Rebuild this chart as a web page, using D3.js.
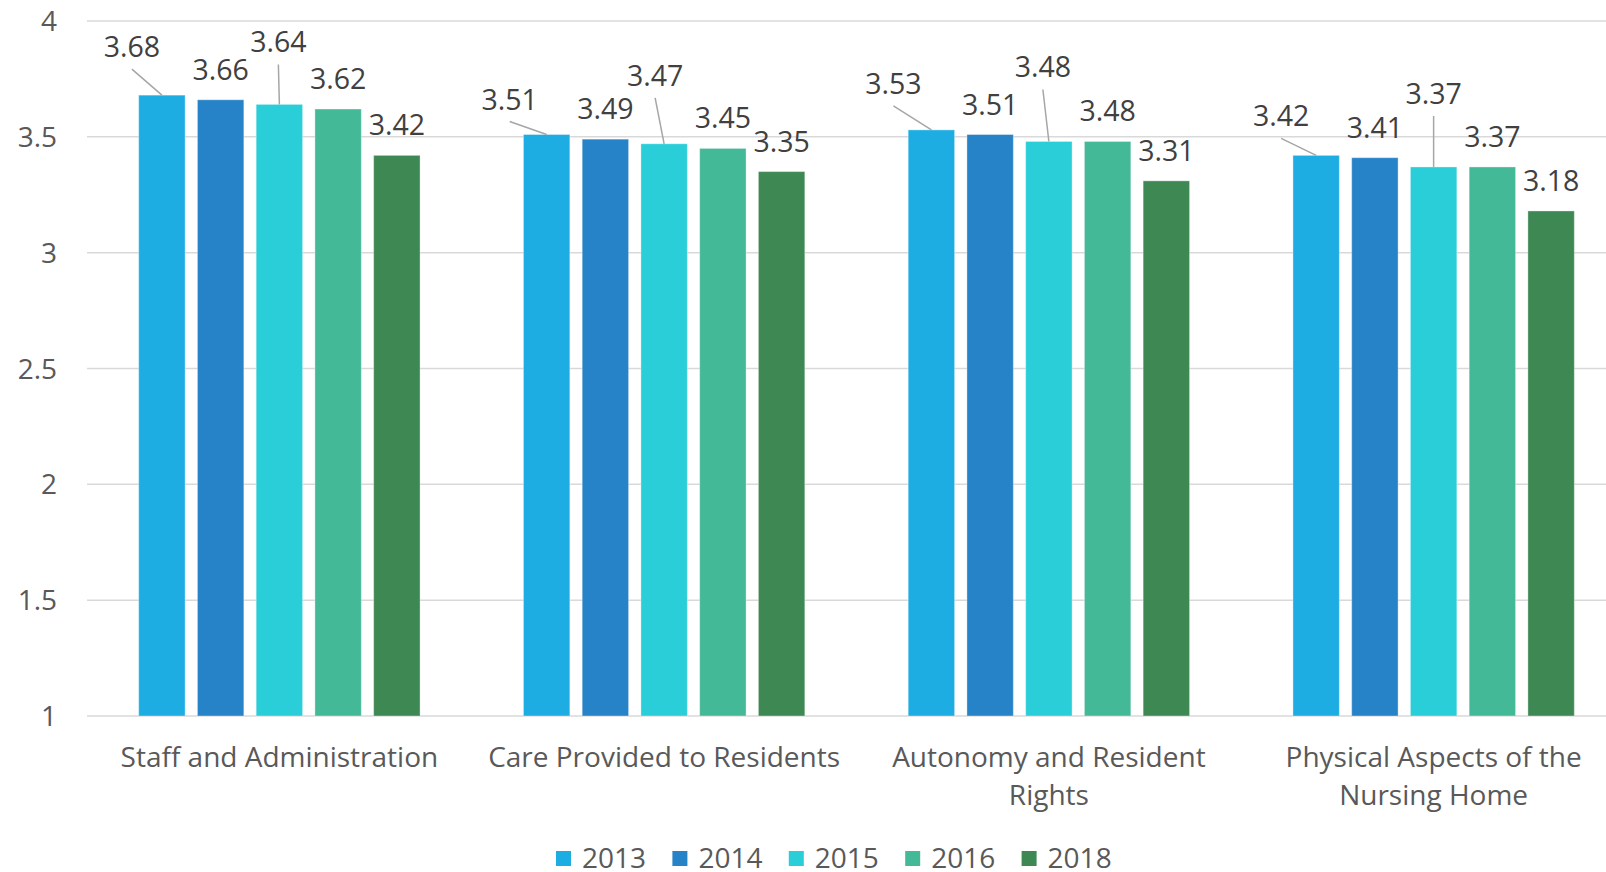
<!DOCTYPE html>
<html>
<head>
<meta charset="utf-8">
<script src="https://cdn.jsdelivr.net/npm/d3@7"></script>
<style>
  html, body { margin: 0; padding: 0; background: #fff; overflow: hidden; }
  svg { display: block; font-family: "Open Sans", sans-serif; }
</style>
</head>
<body>
<div id="chart"></div>
<script>
// Survey scores by area and year

const categories = ["Staff and Administration", "Care Provided to Residents", "Autonomy and Resident Rights", "Physical Aspects of the Nursing Home"];
const years = ["2013", "2014", "2015", "2016", "2018"];

const s2013 = [3.68, 3.51, 3.53, 3.42];
const s2014 = [3.66, 3.49, 3.51, 3.41];
const s2015 = [3.64, 3.47, 3.48, 3.37];
const s2016 = [3.62, 3.45, 3.48, 3.37];
const s2018 = [3.42, 3.35, 3.31, 3.18];

const yTicks = [1, 1.5, 2, 2.5, 3, 3.5, 4];

// Colors per year
const colors = ["#1eade3", "#2783c7", "#29ced8", "#44b997", "#3e8853"];

// Label nudges (dx, dy) for the labels Excel pulled away with a leader line
const labelShift = {
    "2013": [[-30, -18], [-37, -5], [-38, -16], [-35, -9]],
    "2015": [[-1, -32], [-9, -38], [-6, -44], [0, -43]]
};

const series = [s2013, s2014, s2015, s2016, s2018];

let W = 1606, H = 872;
let m = { t: 21, l: 87 };
let plotRight = 1626;   // the plot runs a little past the picture edge
let plotBottom = 716;

let svg = d3.select("#chart")
    .append("svg")
    .attr("width", W)
    .attr("height", H);

let y = d3.scaleLinear().domain([1, 4]).range([plotBottom, m.t]);

let x0 = d3.scaleBand().domain(categories).range([m.l, plotRight]).padding(0);

let x1 = d3.scaleBand().domain(years).range([0, x0.bandwidth()])
    .paddingInner(0.21)
    .paddingOuter(0.88);

// gridlines
svg.append("g")
    .selectAll("line")
    .data(yTicks)
    .enter().append("line")
    .attr("x1", m.l)
    .attr("x2", plotRight)
    .attr("y1", function (d) { return y(d); })
    .attr("y2", function (d) { return y(d); })
    .attr("stroke", "#d9d9d9")
    .attr("stroke-width", 1.5);

// y axis labels
svg.append("g")
    .selectAll("text")
    .data(yTicks)
    .enter().append("text")
    .attr("x", 57)
    .attr("y", function (d) { return y(d); })
    .attr("dy", "0.36em")
    .attr("text-anchor", "end")
    .attr("font-size", 28)
    .attr("fill", "#595959")
    .text(function (d) { return d3.format("")(d); });

// bars
years.forEach(function (yr, i) {
    let vals = series[i];
    let g = svg.append("g");

    g.selectAll("rect")
        .data(vals)
        .enter().append("rect")
        .attr("x", function (d, j) { return x0(categories[j]) + x1(yr); })
        .attr("y", function (d) { return y(d); })
        .attr("width", x1.bandwidth())
        .attr("height", function (d) { return y(1) - y(d); })
        .attr("fill", colors[i])
        .attr("stroke", "#ffffff")
        .attr("stroke-opacity", 0.35)
        .attr("stroke-width", 1);

    let shift = labelShift[yr];

    // leader lines
    if (shift) {
        g.selectAll("line")
            .data(vals)
            .enter().append("line")
            .attr("x1", function (d, j) { return x0(categories[j]) + x1(yr) + x1.bandwidth() / 2 + shift[j][0]; })
            .attr("y1", function (d, j) { return y(d) - 20 + shift[j][1] + 12; })
            .attr("x2", function (d, j) { return x0(categories[j]) + x1(yr) + x1.bandwidth() / 2; })
            .attr("y2", function (d) { return y(d); })
            .attr("stroke", "#a6a6a6")
            .attr("stroke-width", 1.5);
    }

    g.selectAll("text")
        .data(vals)
        .enter().append("text")
        .attr("x", function (d, j) {
            return x0(categories[j]) + x1(yr) + x1.bandwidth() / 2 + (shift ? shift[j][0] : 0);
        })
        .attr("y", function (d, j) { return y(d) - 20 + (shift ? shift[j][1] : 0); })
        .attr("text-anchor", "middle")
        .attr("font-size", 28.5)
        .attr("fill", "#404040")
        .text(function (d) { return d.toFixed(2); });
});

// category labels, wrapped like Excel does
let cat = svg.append("g")
    .selectAll("text")
    .data(categories)
    .enter().append("text")
    .attr("x", function (d) { return x0(d) + x0.bandwidth() / 2; })
    .attr("y", 767)
    .attr("text-anchor", "middle")
    .attr("font-size", 28)
    .attr("fill", "#595959");

cat.each(function (d) {
    let t = d3.select(this);
    let words = d.split(" ");
    let line = [];
    let tspan = t.append("tspan").attr("x", t.attr("x")).attr("dy", 0);
    words.forEach(function (w) {
        line.push(w);
        tspan.text(line.join(" "));
        if (tspan.node().getComputedTextLength() > 370 && line.length > 1) {
            line.pop();
            tspan.text(line.join(" "));
            line = [w];
            tspan = t.append("tspan").attr("x", t.attr("x")).attr("dy", 38).text(w);
        }
    });
});

// legend
let legend = svg.append("g")
    .selectAll("g")
    .data(years)
    .enter().append("g")
    .attr("transform", function (d, i) { return "translate(" + (556 + i * 116.4) + ",0)"; });

legend.append("rect")
    .attr("x", 0)
    .attr("y", 851)
    .attr("width", 15)
    .attr("height", 15)
    .attr("fill", function (d, i) { return colors[i]; });

legend.append("text")
    .attr("x", 26)
    .attr("y", 868)
    .attr("font-size", 28)
    .attr("fill", "#595959")
    .text(function (d) { return d; });
</script>
</body>
</html>
